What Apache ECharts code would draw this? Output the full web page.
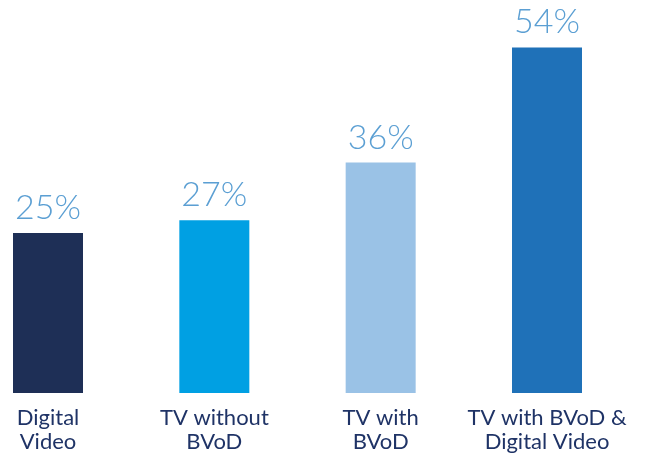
<!DOCTYPE html>
<html><head><meta charset="utf-8">
<script src="https://cdn.jsdelivr.net/npm/echarts@6/dist/echarts.min.js"></script>
<style>html,body{margin:0;padding:0;background:#fff}#c{width:646px;height:454px}</style>
</head><body><div id="c"></div>
<script>
const categories = ["Digital\nVideo", "TV without\nBVoD", "TV with\nBVoD", "TV with BVoD &\nDigital Video"];
const values = [25, 27, 36, 54];
const barColors = ["#1e2f56", "#00a0e3", "#9ac2e6", "#1f71b8"];

const chart = echarts.init(document.getElementById('c'));
chart.setOption({
  animation: false,
  grid: { left: 48, right: 99, top: 9, bottom: 61, containLabel: false, outerBoundsMode: 'none' },
  xAxis: {
    type: 'category', data: categories, boundaryGap: false,
    axisLine: { show: false }, axisTick: { show: false },
    axisLabel: { interval: 0, margin: 13, color: '#1f3366', fontSize: 22, lineHeight: 24, fontFamily: 'Lato' }
  },
  yAxis: { type: 'value', min: 0, max: 60, show: false, splitLine: { show: false } },
  series: [{
    type: 'bar', barWidth: 70,
    data: values.map((v, i) => ({ value: v, itemStyle: { color: barColors[i] } })),
    label: { show: true, position: 'top', distance: 8, formatter: '{c}%', color: '#5b9fd3', fontSize: 34, fontWeight: 300, fontFamily: 'Lato' }
  }]
});
</script></body></html>
